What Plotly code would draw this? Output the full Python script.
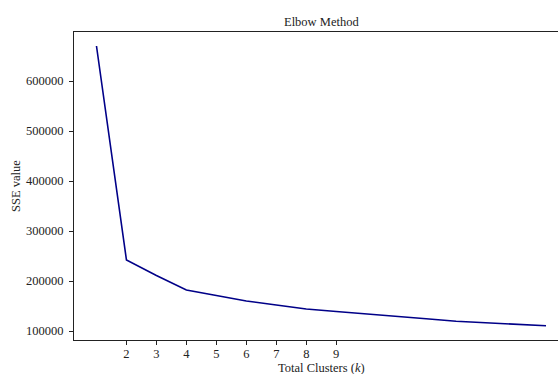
import plotly.graph_objects as go

k_values = list(range(1, 17))
sse_values = [670000, 242000, 211000, 182000, 171000, 160000, 152000, 144000,
              139000, 134500, 130500, 124500, 119500, 116800, 114000, 110500]
x_tick_vals = [2, 3, 4, 5, 6, 7, 8, 9]
y_tick_vals = [100000, 200000, 300000, 400000, 500000, 600000]
y_tick_text = [str(v) for v in y_tick_vals]

FONT = "Liberation Serif, DejaVu Serif, serif"
TXT = "#222"

fig = go.Figure()
fig.add_trace(go.Scatter(
    x=k_values, y=sse_values, mode="lines",
    line=dict(color="#000088", width=1.6),
    showlegend=False, hoverinfo="x+y",
))

fig.update_layout(
    width=558, height=374,
    margin=dict(l=73.5, r=0, t=32, b=34, autoexpand=False),
    paper_bgcolor="white", plot_bgcolor="white",
    font=dict(family=FONT, size=12.5, color=TXT),
    xaxis=dict(
        range=[0.25, 16.4], tickmode="array", tickvals=x_tick_vals,
        ticks="outside", ticklen=4, tickwidth=1, tickcolor=TXT,
        showline=True, linecolor=TXT, linewidth=1, mirror=True,
        showgrid=False, zeroline=False, automargin=False,
        ticklabelstandoff=-2,
    ),
    yaxis=dict(
        range=[82000, 698000], tickmode="array", tickvals=y_tick_vals,
        ticktext=y_tick_text,
        ticks="outside", ticklen=4, tickwidth=1, tickcolor=TXT,
        showline=True, linecolor=TXT, linewidth=1, mirror=False,
        showgrid=False, zeroline=False, automargin=False,
        ticklabelstandoff=3,
    ),
    annotations=[
        dict(text="Elbow Method", xref="paper", yref="paper",
             x=0.511, y=1, xanchor="center", yanchor="bottom", yshift=1,
             showarrow=False, font=dict(family=FONT, size=12.5, color=TXT)),
        dict(text="Total Clusters (<i>k</i>)", xref="paper", yref="paper",
             x=0.511, y=0, xanchor="center", yanchor="top", yshift=-19,
             showarrow=False, font=dict(family=FONT, size=12.5, color=TXT)),
        dict(text="SSE value", xref="paper", yref="paper", textangle=-90,
             x=0, y=0.5, xanchor="right", yanchor="middle", xshift=-49,
             showarrow=False, font=dict(family=FONT, size=12.5, color=TXT)),
    ],
)

fig.write_html("out.html",
               config={"displayModeBar": False},
               post_script="document.body.style.margin='0';"
                           "document.body.style.overflow='hidden';")
